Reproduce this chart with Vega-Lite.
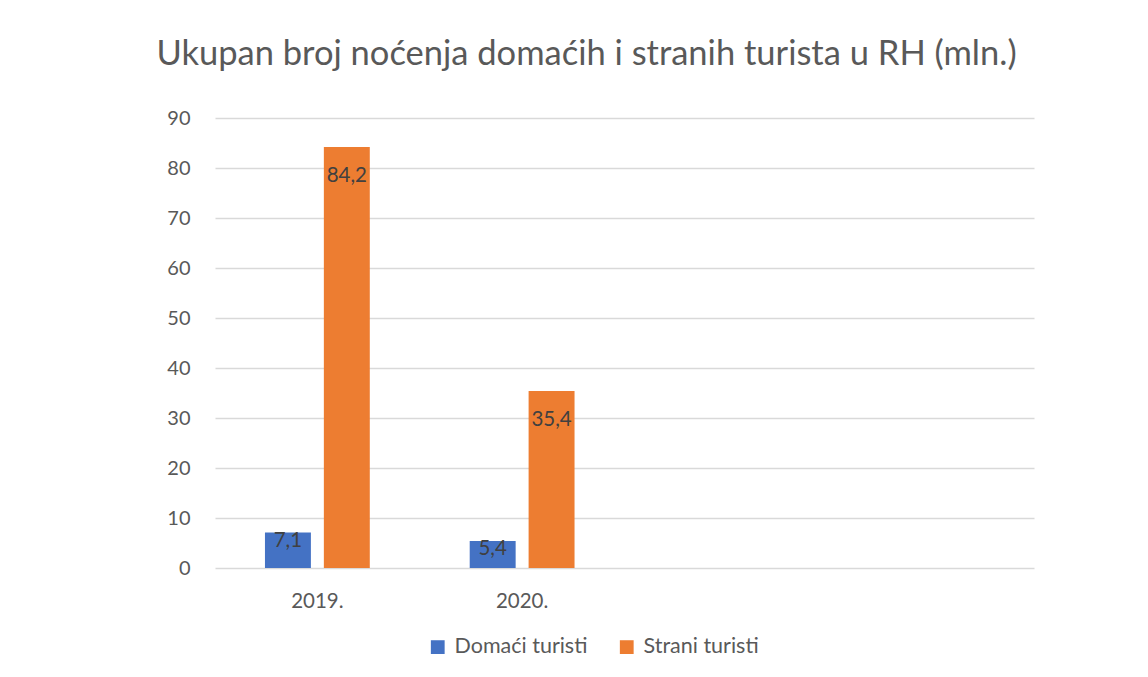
{
  "$schema": "https://vega.github.io/schema/vega-lite/v6.json",
  "autosize": {"type": "none"},
  "width": 819,
  "height": 450,
  "padding": {"left": 215, "top": 118, "right": 114, "bottom": 109},
  "background": "white",
  "title": {
    "text": "Ukupan broj noćenja domaćih i stranih turista u RH (mln.)",
    "font": "Lato",
    "fontSize": 34.5,
    "fontWeight": "normal",
    "color": "#595959",
    "anchor": "middle",
    "frame": "group",
    "dx": -38,
    "offset": 36
  },
  "data": {
    "values": [
      {"godina": "2019.", "serija": "Domaći turisti", "vrijednost": 7.1, "oznaka": "7,1"},
      {"godina": "2019.", "serija": "Strani turisti", "vrijednost": 84.2, "oznaka": "84,2"},
      {"godina": "2020.", "serija": "Domaći turisti", "vrijednost": 5.4, "oznaka": "5,4"},
      {"godina": "2020.", "serija": "Strani turisti", "vrijednost": 35.4, "oznaka": "35,4"}
    ]
  },
  "encoding": {
    "x": {
      "field": "godina",
      "type": "nominal",
      "scale": {"domain": ["2019.", "2020.", " ", "  "], "paddingInner": 0.488, "paddingOuter": 0.244},
      "axis": {"title": null, "labelAngle": 0, "domain": false, "ticks": false, "labelPadding": 23, "labelFont": "Lato", "labelFontSize": 20.5, "labelColor": "#595959"}
    },
    "xOffset": {
      "field": "serija",
      "type": "nominal",
      "scale": {"domain": ["Domaći turisti", "Strani turisti"], "paddingInner": 0.22}
    },
    "y": {
      "field": "vrijednost",
      "type": "quantitative",
      "scale": {"domain": [0, 90]},
      "axis": {"title": null, "values": [0, 10, 20, 30, 40, 50, 60, 70, 80, 90], "domain": false, "ticks": false, "labelPadding": 25, "labelFont": "Lato", "labelFontSize": 20, "labelColor": "#595959", "gridColor": "#D9D9D9", "gridWidth": 1.5}
    }
  },
  "layer": [
    {
      "mark": {"type": "bar"},
      "encoding": {
        "color": {
          "field": "serija",
          "type": "nominal",
          "scale": {"domain": ["Domaći turisti", "Strani turisti"], "range": ["#4472C4", "#ED7D31"]},
          "legend": {
            "title": null,
            "orient": "none",
            "legendX": 212,
            "legendY": 518,
            "direction": "horizontal",
            "symbolType": "square",
            "symbolSize": 190,
            "symbolStrokeWidth": 0,
            "labelFont": "Lato",
            "labelFontSize": 21.5,
            "labelColor": "#595959",
            "columnPadding": 28,
            "labelOffset": 6
          }
        }
      }
    },
    {
      "transform": [{"filter": "datum.vrijednost >= 10"}],
      "mark": {"type": "text", "baseline": "top", "dy": 19, "font": "Lato", "fontSize": 20.5, "color": "#404040"},
      "encoding": {"text": {"field": "oznaka"}}
    },
    {
      "transform": [{"filter": "datum.vrijednost < 10"}],
      "mark": {"type": "text", "baseline": "middle", "dy": 8, "font": "Lato", "fontSize": 20.5, "color": "#404040"},
      "encoding": {"text": {"field": "oznaka"}}
    }
  ],
  "config": {"view": {"stroke": null}}
}
